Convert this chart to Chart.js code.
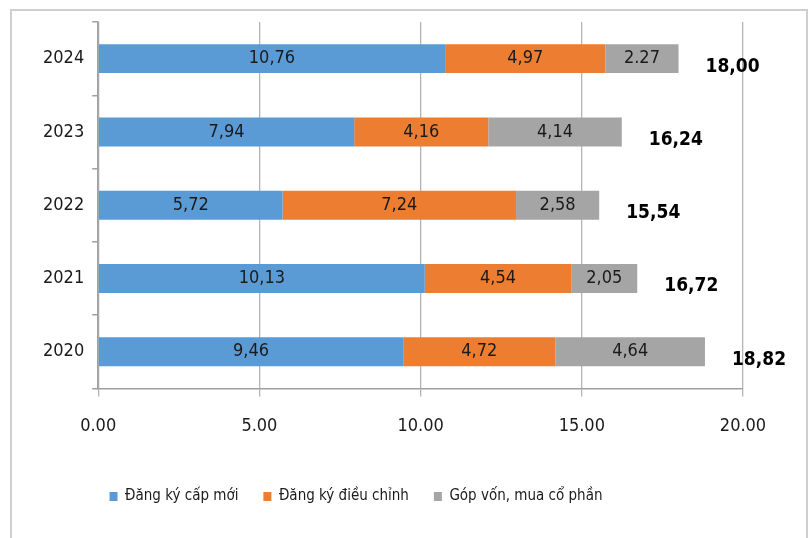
<!DOCTYPE html>
<html lang="vi">
<head>
  <meta charset="UTF-8">
  <title>Vốn FDI đăng ký theo hình thức, 2020-2024</title>
  <script src="https://cdn.jsdelivr.net/npm/chart.js"></script>
  <style>
    body {
      margin: 0;
      background-color: #ffffff;
    }
    .frame {
      position: absolute;
      left: 10px;
      top: 9px;
      width: 794px;
      height: 527px;
      border: 2px solid #cfcfcf;
      border-bottom: none;
      background-color: #ffffff;
    }
    canvas {
      display: block;
    }
  </style>
</head>
<body>
  <div class="frame">
    <canvas id="fdiChart" width="794" height="527"></canvas>
  </div>

  <script>
    // Data (top to bottom as in the picture)
    var years = ['2024', '2023', '2022', '2021', '2020'];
    var capMoi = [10.76, 7.94, 5.72, 10.13, 9.46];
    var dieuChinh = [4.97, 4.16, 7.24, 4.54, 4.72];
    var gopVon = [2.27, 4.14, 2.58, 2.05, 4.64];
    var seriesNames = ['Đăng ký cấp mới', 'Đăng ký điều chỉnh', 'Góp vốn, mua cổ phần'];
    var xTicks = [0, 5, 10, 15, 20];

    var narrow = "'Liberation Sans Narrow', 'DejaVu Sans Condensed', sans-serif";

    function fmt(v) {
      return v.toFixed(2).replace('.', ',');
    }

    // value labels inside segments + bold totals to the right
    var labelPlugin = {
      id: 'labelPlugin',
      afterLayout: function (chart) {
        // legend sits a bit left of centre in the original
        chart.legend.left -= 33;
        chart.legend.right -= 33;
      },
      afterDatasetsDraw: function (chart) {
        var ctx = chart.ctx;
        ctx.save();
        ctx.textAlign = 'center';
        ctx.textBaseline = 'middle';
        ctx.fillStyle = '#1a1a1a';
        ctx.font = '18px ' + narrow;
        chart.data.datasets.forEach(function (ds, i) {
          var meta = chart.getDatasetMeta(i);
          meta.data.forEach(function (bar, j) {
            // the source writes this one with a dot
            var txt = ds.data[j] === 2.27 ? '2.27' : fmt(ds.data[j]);
            ctx.fillText(txt, (bar.x + bar.base) / 2, bar.y);
          });
        });

        var xs = chart.scales.x;
        ctx.textAlign = 'left';
        ctx.font = 'bold 19px ' + narrow;
        ctx.fillStyle = '#000000';
        var lastMeta = chart.getDatasetMeta(2);
        years.forEach(function (y, j) {
          var total = capMoi[j] + dieuChinh[j] + gopVon[j];
          var px = xs.getPixelForValue(total) + 27;
          ctx.fillText(fmt(total), px, lastMeta.data[j].y + 8);
        });
        ctx.restore();
      }
    };

    var ctx = document.getElementById('fdiChart').getContext('2d');

    var chart = new Chart(ctx, {
      type: 'bar',
      data: {
        labels: years,
        datasets: [
          { label: seriesNames[0], data: capMoi, backgroundColor: '#5b9bd5' },
          { label: seriesNames[1], data: dieuChinh, backgroundColor: '#ed7d31' },
          { label: seriesNames[2], data: gopVon, backgroundColor: '#a5a5a5' }
        ]
      },
      options: {
        indexAxis: 'y',
        responsive: false,
        animation: false,
        devicePixelRatio: 1,
        datasets: {
          bar: { barPercentage: 0.79, categoryPercentage: 0.5 }
        },
        layout: {
          padding: { left: 23, right: 63, top: 11, bottom: 24 }
        },
        scales: {
          x: {
            stacked: true,
            min: 0,
            max: 20,
            afterBuildTicks: function (axis) {
              axis.ticks = xTicks.map(function (v) { return { value: v }; });
            },
            afterFit: function (axis) {
              axis.height += 8;
            },
            ticks: {
              color: '#1a1a1a',
              padding: 19,
              font: { family: narrow, size: 18 },
              callback: function (v) { return Number(v).toFixed(2); }
            },
            grid: {
              color: '#b4b4b4',
              lineWidth: 1.3,
              tickLength: 8
            },
            border: { color: '#a0a0a0', width: 1.5 }
          },
          y: {
            stacked: true,
            afterFit: function (axis) {
              axis.paddingTop = 0;
              axis.paddingBottom = 0;
            },
            ticks: {
              color: '#1a1a1a',
              padding: 8,
              font: { family: narrow, size: 18 }
            },
            grid: {
              drawOnChartArea: false,
              offset: true,
              tickLength: 6,
              color: '#a0a0a0',
              lineWidth: 1.5
            },
            border: { color: '#a0a0a0', width: 1.5 }
          }
        },
        plugins: {
          legend: {
            position: 'bottom',
            labels: {
              boxWidth: 8,
              boxHeight: 9,
              padding: 25,
              color: '#1a1a1a',
              font: { family: narrow, size: 15 }
            }
          },
          tooltip: { enabled: false }
        }
      },
      plugins: [labelPlugin]
    });
  </script>
</body>
</html>
